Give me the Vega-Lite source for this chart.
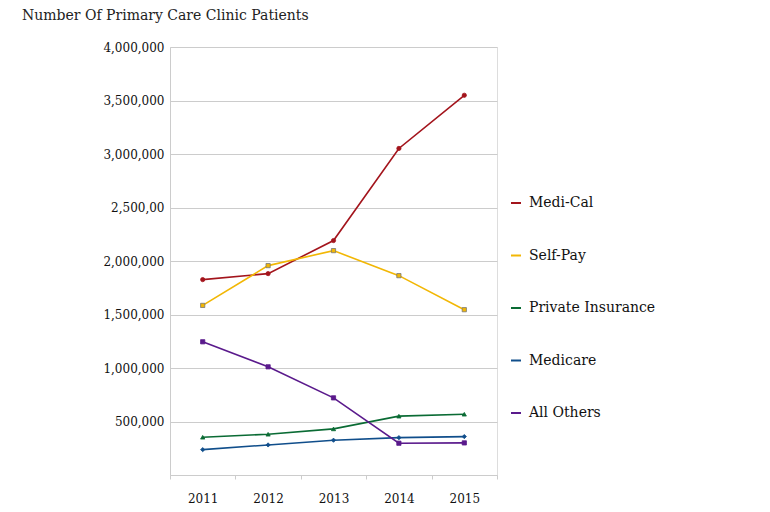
{
  "$schema": "https://vega.github.io/schema/vega-lite/v6.json",
  "width": 327,
  "height": 428,
  "autosize": {"type": "none"},
  "padding": {"left": 170, "top": 47, "right": 273, "bottom": 37},
  "background": "white",
  "title": {
    "text": "Number Of Primary Care Clinic Patients",
    "anchor": "start",
    "frame": "group",
    "dx": -148,
    "offset": 18,
    "font": "DejaVu Serif",
    "fontSize": 14,
    "fontWeight": "normal",
    "color": "#222222"
  },
  "data": {
    "values": [
      {"year": "2011", "series": "Medi-Cal", "patients": 1826000},
      {"year": "2012", "series": "Medi-Cal", "patients": 1882000},
      {"year": "2013", "series": "Medi-Cal", "patients": 2191000},
      {"year": "2014", "series": "Medi-Cal", "patients": 3052000},
      {"year": "2015", "series": "Medi-Cal", "patients": 3549000},
      {"year": "2011", "series": "Self-Pay", "patients": 1585000},
      {"year": "2012", "series": "Self-Pay", "patients": 1957000},
      {"year": "2013", "series": "Self-Pay", "patients": 2097000},
      {"year": "2014", "series": "Self-Pay", "patients": 1863000},
      {"year": "2015", "series": "Self-Pay", "patients": 1545000},
      {"year": "2011", "series": "Private Insurance", "patients": 353000},
      {"year": "2012", "series": "Private Insurance", "patients": 381000},
      {"year": "2013", "series": "Private Insurance", "patients": 431000},
      {"year": "2014", "series": "Private Insurance", "patients": 550000},
      {"year": "2015", "series": "Private Insurance", "patients": 568000},
      {"year": "2011", "series": "Medicare", "patients": 237000},
      {"year": "2012", "series": "Medicare", "patients": 281000},
      {"year": "2013", "series": "Medicare", "patients": 325000},
      {"year": "2014", "series": "Medicare", "patients": 349000},
      {"year": "2015", "series": "Medicare", "patients": 359000},
      {"year": "2011", "series": "All Others", "patients": 1245000},
      {"year": "2012", "series": "All Others", "patients": 1011000},
      {"year": "2013", "series": "All Others", "patients": 721000},
      {"year": "2014", "series": "All Others", "patients": 297000},
      {"year": "2015", "series": "All Others", "patients": 300000}
    ]
  },
  "encoding": {
    "x": {
      "field": "year",
      "type": "ordinal",
      "scale": {"type": "band", "paddingInner": 0, "paddingOuter": 0},
      "axis": {
        "title": null,
        "labelAngle": 0,
        "tickBand": "extent",
        "tickSize": 4,
        "tickColor": "#cccccc",
        "domainColor": "#cccccc",
        "labelPadding": 14,
        "labelFont": "DejaVu Serif",
        "labelFontSize": 12,
        "labelColor": "#111111",
        "grid": false
      }
    },
    "y": {
      "field": "patients",
      "type": "quantitative",
      "scale": {"domain": [0, 4000000], "nice": false},
      "axis": {
        "title": null,
        "values": [0, 500000, 1000000, 1500000, 2000000, 2500000, 3000000, 3500000, 4000000],
        "labelExpr": "datum.value == 0 ? '' : (datum.value == 2500000 ? '2,500,00' : format(datum.value, ','))",
        "ticks": false,
        "labelPadding": 6,
        "labelFont": "DejaVu Serif",
        "labelFontSize": 12,
        "labelColor": "#111111",
        "domainColor": "#cccccc",
        "gridColor": "#cccccc",
        "grid": true
      }
    }
  },
  "layer": [
    {
      "mark": {"type": "line", "strokeWidth": 1.6},
      "encoding": {
        "color": {
          "field": "series",
          "type": "nominal",
          "scale": {
            "domain": ["Medi-Cal", "Self-Pay", "Private Insurance", "Medicare", "All Others"],
            "range": ["#a3141c", "#f2b705", "#0a6b34", "#104e8b", "#5a1a8c"]
          },
          "legend": {
            "title": null,
            "orient": "none",
            "legendX": 339,
            "legendY": 149,
            "symbolType": "stroke",
            "symbolStrokeWidth": 2,
            "symbolSize": 100,
            "symbolOpacity": 1,
            "labelFont": "DejaVu Serif",
            "labelFontSize": 14,
            "labelColor": "#111111",
            "rowPadding": 38.5,
            "labelOffset": 6
          }
        }
      }
    },
    {
      "mark": {"type": "point", "filled": true, "size": 18, "strokeWidth": 0.8, "opacity": 1},
      "encoding": {
        "fill": {
          "field": "series",
          "type": "nominal",
          "scale": {
            "domain": ["Medi-Cal", "Self-Pay", "Private Insurance", "Medicare", "All Others"],
            "range": ["#a3141c", "#f2b705", "#0a6b34", "#104e8b", "#5a1a8c"]
          },
          "legend": null
        },
        "shape": {
          "field": "series",
          "type": "nominal",
          "scale": {
            "domain": ["Medi-Cal", "Self-Pay", "Private Insurance", "Medicare", "All Others"],
            "range": ["circle", "square", "triangle-up", "diamond", "square"]
          },
          "legend": null
        },
        "stroke": {
          "field": "series",
          "type": "nominal",
          "scale": {
            "domain": ["Medi-Cal", "Self-Pay", "Private Insurance", "Medicare", "All Others"],
            "range": ["#a3141c", "#777777", "#0a6b34", "#104e8b", "#5a1a8c"]
          },
          "legend": null
        }
      }
    }
  ],
  "resolve": {
    "scale": {"fill": "independent", "shape": "independent", "stroke": "independent"},
    "legend": {"fill": "independent", "shape": "independent", "stroke": "independent"}
  }
}
